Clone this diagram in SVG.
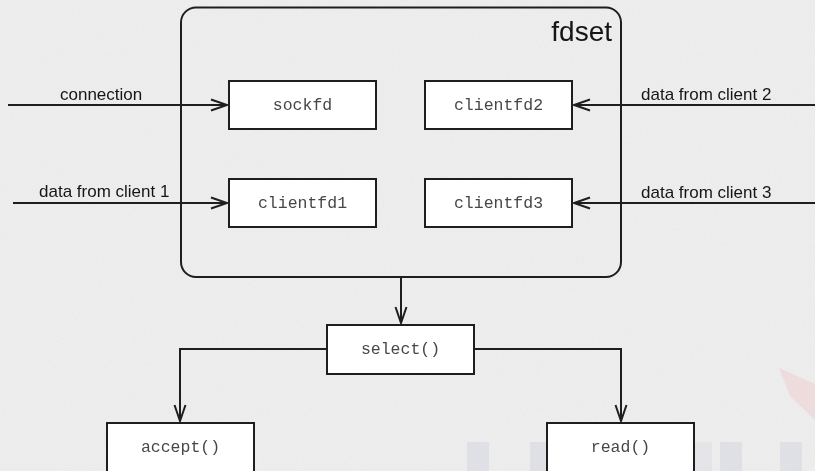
<svg xmlns="http://www.w3.org/2000/svg" width="815" height="471" viewBox="0 0 815 471">
  <defs>
    <style>
      .box { fill: #ffffff; stroke: #1e1e1e; stroke-width: 2; }
      .group { fill: none; stroke: #1e1e1e; stroke-width: 2; }
      .code { font-family: "Liberation Mono", "Courier New", monospace; font-size: 16.5px; fill: #474747; text-anchor: middle; }
      .label { font-family: "Liberation Sans", Arial, Helvetica, sans-serif; font-size: 17px; fill: #151515; }
      .title { font-family: "Liberation Sans", Arial, Helvetica, sans-serif; font-size: 28px; fill: #151515; text-anchor: end; }
      .wire { fill: none; stroke: #1e1e1e; stroke-width: 2; }
      .wm-bar { fill: #d9d9e3; }
    </style>
    <marker id="open-arrow" markerUnits="userSpaceOnUse" markerWidth="20" markerHeight="16" viewBox="-17 -8 20 16" refX="0" refY="0" orient="auto">
      <path d="M -16 -5.5 L 0 0 L -16 5.5" fill="none" stroke="#1e1e1e" stroke-width="2"/>
    </marker>
    <filter id="paper" x="0" y="0" width="100%" height="100%">
      <feTurbulence type="fractalNoise" baseFrequency="0.9 0.35" numOctaves="2" seed="4" result="n"/>
      <feColorMatrix type="matrix" values="0 0 0 0 0.5  0 0 0 0 0.5  0 0 0 0 0.5  0 0 0 0.22 0"/>
    </filter>
  </defs>

  <!-- paper background -->
  <rect x="0" y="0" width="815" height="471" fill="#efefef"/>
  <rect x="0" y="0" width="815" height="471" filter="url(#paper)" opacity="0.45"/>

  <!-- faint watermark marks -->
  <g id="watermark" opacity="0.65">
    <rect class="wm-bar" x="467" y="442" width="22" height="29"/>
    <rect class="wm-bar" x="530" y="442" width="18" height="29"/>
    <rect class="wm-bar" x="694" y="442" width="18" height="29" opacity="0.6"/>
    <rect class="wm-bar" x="720" y="442" width="22" height="29"/>
    <rect class="wm-bar" x="780" y="442" width="22" height="29"/>
    <path d="M 779 368 L 815 384 L 815 420 L 790 396 Z" fill="#f0d2d4"/>
  </g>

  <!-- fdset container -->
  <g id="fdset">
    <rect class="group" x="181" y="7.5" width="440" height="269.5" rx="15" ry="15"/>
    <text class="title" x="612" y="41">fdset</text>
  </g>

  <g id="sockfd">
    <rect class="box" x="229" y="81" width="147" height="48"/>
    <text class="code" x="302.5" y="110">sockfd</text>
  </g>
  <g id="clientfd2">
    <rect class="box" x="425" y="81" width="147" height="48"/>
    <text class="code" x="498.5" y="110">clientfd2</text>
  </g>
  <g id="clientfd1">
    <rect class="box" x="229" y="179" width="147" height="48"/>
    <text class="code" x="302.5" y="208">clientfd1</text>
  </g>
  <g id="clientfd3">
    <rect class="box" x="425" y="179" width="147" height="48"/>
    <text class="code" x="498.5" y="208">clientfd3</text>
  </g>

  <g id="select">
    <rect class="box" x="327" y="325" width="147" height="49"/>
    <text class="code" x="400.5" y="354">select()</text>
  </g>
  <g id="accept">
    <rect class="box" x="107" y="423" width="147" height="60"/>
    <text class="code" x="180.5" y="452">accept()</text>
  </g>
  <g id="read">
    <rect class="box" x="547" y="423" width="147" height="60"/>
    <text class="code" x="620.5" y="452">read()</text>
  </g>

  <!-- connectors -->
  <g id="connectors">
    <path class="wire" d="M 8 105 H 227" marker-end="url(#open-arrow)"/>
    <path class="wire" d="M 13 203 H 227" marker-end="url(#open-arrow)"/>
    <path class="wire" d="M 815 105 H 574" marker-end="url(#open-arrow)"/>
    <path class="wire" d="M 815 203 H 574" marker-end="url(#open-arrow)"/>
    <path class="wire" d="M 401 277 V 323" marker-end="url(#open-arrow)"/>
    <path class="wire" d="M 327 349 H 180 V 421" marker-end="url(#open-arrow)"/>
    <path class="wire" d="M 474 349 H 621 V 421" marker-end="url(#open-arrow)"/>

    <text class="label" x="60" y="100">connection</text>
    <text class="label" x="39" y="197">data from client 1</text>
    <text class="label" x="641" y="100">data from client 2</text>
    <text class="label" x="641" y="198">data from client 3</text>
  </g>
</svg>
